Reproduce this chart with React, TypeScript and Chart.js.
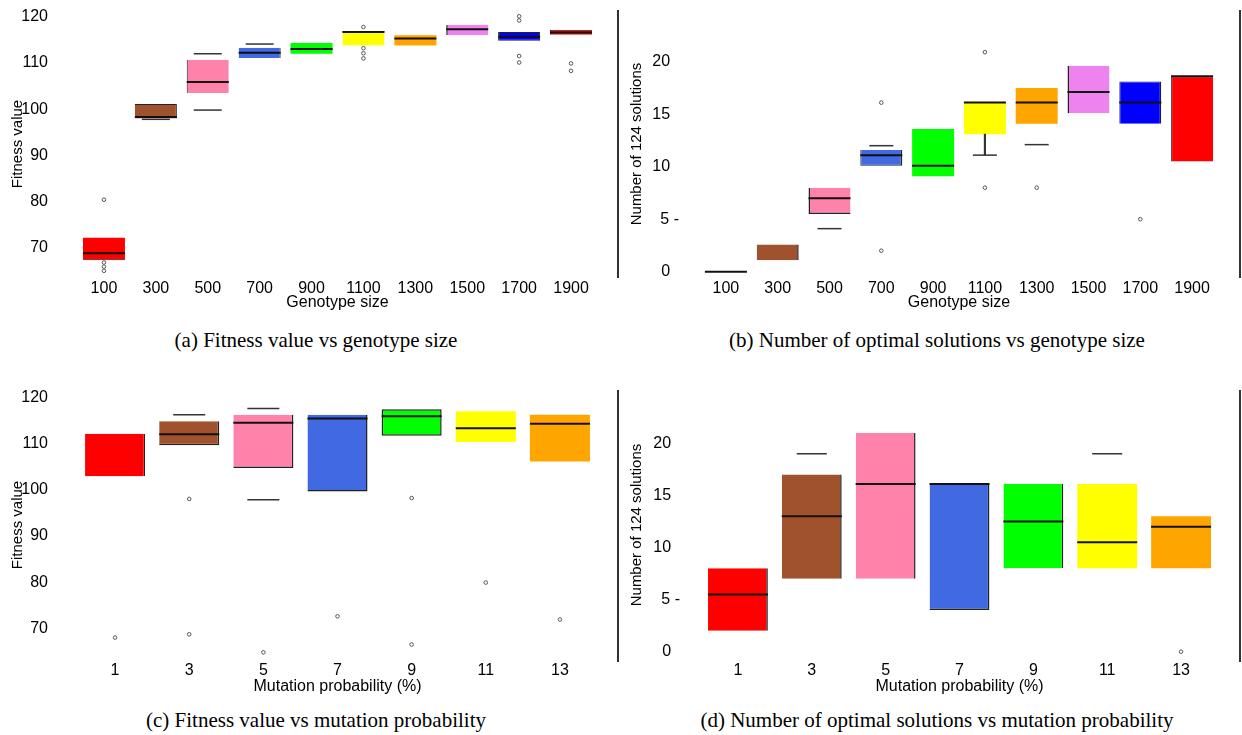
import React, { useEffect, useRef } from "react";
import { Chart, registerables } from "chart.js";

Chart.register(...registerables);

type Pt = { x: string; y: number };
type Edges = { top: number; right: number; bottom: number; left: number };

// ---------- categories ----------
const genotypeSizes = ["100", "300", "500", "700", "900", "1100", "1300", "1500", "1700", "1900"];
const mutationProbs = ["1", "3", "5", "7", "9", "11", "13"];

const genotypeColors = ["#FF0000", "#A0522D", "#FF82AB", "#4169E1", "#00FF00", "#FFFF00", "#FFA500", "#EE82EE", "#0000FF", "#FF0000"];
const mutationColors = ["#FF0000", "#A0522D", "#FF82AB", "#4169E1", "#00FF00", "#FFFF00", "#FFA500"];

// ---------- tick labels ----------
const fitnessTicks = [70, 80, 90, 100, 110, 120];
const fitnessTickLabels = ["70", "80", "90", "100", "110", "120"];
const countTicks = [0, 5, 10, 15, 20];
const countTickLabels = ["0  ", "5 -", "10  ", "15  ", "20  "];

// ---------- (a) fitness vs genotype size ----------
const fitGenoQ1 = [67.3, 98.0, 103.5, 111.1, 112.0, 113.8, 113.8, 116.0, 114.8, 116.1];
const fitGenoQ3 = [72.2, 101.1, 110.7, 113.3, 114.3, 116.9, 116.0, 118.3, 116.7, 117.2];
const fitGenoMedian: (number | null)[] = [68.8, 98.3, 105.9, 112.2, 113.0, 116.7, 115.3, 117.3, 115.7, 116.6];
const fitGenoCaps: Pt[] = [
  { x: "300", y: 97.8 }, { x: "500", y: 112.0 }, { x: "500", y: 99.8 }, { x: "700", y: 114.1 },
];
const fitGenoOutliers: Pt[] = [
  { x: "100", y: 80.4 }, { x: "100", y: 66.8 }, { x: "100", y: 65.9 }, { x: "100", y: 65.0 },
  { x: "1100", y: 117.8 }, { x: "1100", y: 113.2 }, { x: "1100", y: 112.1 }, { x: "1100", y: 111.0 },
  { x: "1700", y: 120.1 }, { x: "1700", y: 119.2 }, { x: "1700", y: 111.5 }, { x: "1700", y: 110.1 },
  { x: "1900", y: 109.9 }, { x: "1900", y: 108.3 },
];
const fitGenoWhiskers: ([number, number] | null)[] = [null, null, null, null, null, null, null, null, null, null];

// ---------- (b) optimal solutions vs genotype size ----------
const solGenoQ1 = [0, 1.1, 5.5, 10.1, 9.1, 13.1, 14.1, 15.1, 14.1, 10.5];
const solGenoQ3 = [0, 2.6, 8.0, 11.6, 13.6, 16.1, 17.5, 19.6, 18.1, 18.6];
const solGenoMedian: (number | null)[] = [0, null, 7.0, 11.1, 10.1, 16.1, 16.1, 17.1, 16.1, 18.6];
const solGenoCaps: Pt[] = [
  { x: "500", y: 4.1 }, { x: "700", y: 12.0 }, { x: "1100", y: 11.1 }, { x: "1300", y: 12.1 },
];
const solGenoOutliers: Pt[] = [
  { x: "700", y: 16.1 }, { x: "700", y: 2.0 },
  { x: "1100", y: 20.9 }, { x: "1100", y: 8.0 },
  { x: "1300", y: 8.0 }, { x: "1700", y: 5.0 },
];
const solGenoWhiskers: ([number, number] | null)[] = [null, null, null, null, null, [11.1, 13.1], null, null, null, null];

// ---------- (c) fitness vs mutation probability ----------
const fitMutQ1 = [102.9, 109.6, 104.7, 99.6, 111.7, 110.3, 106.1];
const fitMutQ3 = [112.1, 114.8, 116.2, 116.2, 117.4, 117.0, 116.2];
const fitMutMedian: (number | null)[] = [null, 112.0, 114.5, 115.4, 115.9, 113.3, 114.3];
const fitMutCaps: Pt[] = [
  { x: "3", y: 116.2 }, { x: "5", y: 117.6 }, { x: "5", y: 97.8 },
];
const fitMutOutliers: Pt[] = [
  { x: "1", y: 68.0 },
  { x: "3", y: 98.0 }, { x: "3", y: 68.7 },
  { x: "5", y: 64.8 },
  { x: "7", y: 72.6 },
  { x: "9", y: 98.2 }, { x: "9", y: 66.5 },
  { x: "11", y: 79.9 },
  { x: "13", y: 71.9 },
];
const fitMutWhiskers: ([number, number] | null)[] = [null, null, null, null, null, null, null];

// ---------- (d) optimal solutions vs mutation probability ----------
const solMutQ1 = [2.0, 7.0, 7.0, 4.0, 8.0, 8.0, 8.0];
const solMutQ3 = [8.0, 17.0, 21.0, 16.1, 16.1, 16.1, 13.0];
const solMutMedian: (number | null)[] = [5.5, 13.0, 16.1, 16.1, 12.5, 10.5, 12.0];
const solMutCaps: Pt[] = [{ x: "3", y: 19.0 }, { x: "11", y: 19.0 }];
const solMutOutliers: Pt[] = [{ x: "13", y: 0.0 }];
const solMutWhiskers: ([number, number] | null)[] = [null, null, null, null, null, null, null];

// ---------- box edge styling (dark edges seen on some boxes) ----------
const E = (top: number, right: number, bottom: number, left: number): Edges => ({ top, right, bottom, left });
const edgesA: Edges[] = [E(0,0,1,0), E(1,1,0,0), E(0,0,0,1), E(0,1,0,0), E(0,0,0,0), E(1,0,0,0), E(0,0,0,0), E(0,0,0,1.5), E(1,1,1,1), E(1,0,0,1)];
const edgesB: Edges[] = [E(0,0,0,0), E(0,1.5,0,0), E(0,0,1.5,1.5), E(0,1.5,1,1), E(0,0,0,0), E(0,0,0,0), E(0,0,0,0), E(0,0,0,1.5), E(1,1.5,0,1), E(1,0,0,1)];
const edgesC: Edges[] = [E(0,1.5,0,0), E(0,1.5,1.5,0), E(0,1.5,1.5,0), E(0,1.5,1.5,0), E(1.5,1.5,1.5,1.5), E(0,0,0,0), E(0,0,0,0)];
const edgesD: Edges[] = [E(0,1.5,0,0), E(0,1.5,0,0), E(0,1.5,0,0), E(0,1.5,1.5,0), E(0,1.5,0,0), E(0,0,0,0), E(0,0,0,0)];

const SANS = "'Liberation Sans', Arial, sans-serif";
const SERIF = "'Liberation Serif', 'Times New Roman', serif";

interface PanelProps {
  left: number;
  top: number;
  width: number;
  height: number;
  labels: string[];
  colors: string[];
  edges: Edges[];
  q1: number[];
  q3: number[];
  median: (number | null)[];
  caps: Pt[];
  outliers: Pt[];
  whiskers: ([number, number] | null)[];
  yMin: number;
  yMax: number;
  yTicks: number[];
  yTickLabels: string[];
  yTitle: string;
  xTitle: string;
  yAxisWidth: number;
  xAxisHeight: number;
  yTickPadding: number;
  yTitlePad: number;
  halfBox: number;
  capHalf: number;
}

function BoxPanel(p: PanelProps) {
  const ref = useRef<HTMLCanvasElement | null>(null);
  useEffect(() => {
    if (!ref.current) return;
    const chart = new Chart(ref.current, {
      type: "bar",
      data: {
        labels: p.labels,
        datasets: [
          {
            type: "line",
            data: p.median as any,
            showLine: false,
            pointStyle: "line",
            pointRadius: p.halfBox,
            pointHoverRadius: p.halfBox,
            pointBorderColor: "#111",
            pointBorderWidth: 2,
            borderColor: "#111",
            clip: false,
            order: 0,
          } as any,
          {
            type: "line",
            data: p.caps as any,
            showLine: false,
            pointStyle: "line",
            pointRadius: p.capHalf,
            pointBorderColor: "#333",
            pointBorderWidth: 1.5,
            borderColor: "#333",
            clip: false,
            order: 1,
          } as any,
          {
            type: "line",
            data: p.outliers as any,
            showLine: false,
            pointStyle: "circle",
            pointRadius: 1.8,
            pointBackgroundColor: "rgba(0,0,0,0)",
            pointBorderColor: "#555",
            pointBorderWidth: 1,
            clip: false,
            order: 1,
          } as any,
          {
            type: "bar",
            data: p.whiskers as any,
            backgroundColor: "#333",
            barThickness: 1.5,
            grouped: false,
            order: 5,
          } as any,
          {
            type: "bar",
            data: p.q1.map((v, i) => [v, p.q3[i]]) as any,
            backgroundColor: p.colors,
            borderColor: "#222",
            borderWidth: p.edges,
            borderSkipped: false,
            barPercentage: 0.81,
            categoryPercentage: 1,
            grouped: false,
            order: 10,
          } as any,
        ],
      },
      options: {
        animation: false,
        responsive: false,
        maintainAspectRatio: false,
        devicePixelRatio: 1,
        layout: { autoPadding: false, padding: { top: 10, left: 0, right: 0, bottom: 0 } },
        plugins: { legend: { display: false }, tooltip: { enabled: false } },
        scales: {
          x: {
            type: "category",
            offset: true,
            afterFit: (s: any) => {
              s.height = p.xAxisHeight;
            },
            grid: { display: false, drawTicks: false },
            border: { display: false },
            ticks: {
              padding: 1,
              color: "#000",
              font: { family: SANS, size: 16 },
              maxRotation: 0,
              autoSkip: false,
            },
            title: {
              display: true,
              text: p.xTitle,
              color: "#000",
              font: { family: SANS, size: 16 },
              padding: { top: 0, bottom: 4 },
            },
          },
          y: {
            type: "linear",
            min: p.yMin,
            max: p.yMax,
            afterBuildTicks: (s: any) => {
              s.ticks = p.yTicks.map((v) => ({ value: v }));
            },
            afterFit: (s: any) => {
              s.width = p.yAxisWidth;
              s.paddingTop = 0;
              s.paddingBottom = 0;
            },
            grid: { display: false, drawTicks: false },
            border: { display: false },
            ticks: {
              padding: p.yTickPadding,
              color: "#000",
              font: { family: SANS, size: 16 },
              callback: (v: any) => {
                const i = p.yTicks.indexOf(Number(v));
                return i >= 0 ? p.yTickLabels[i] : "";
              },
            },
            title: {
              display: true,
              text: p.yTitle,
              color: "#000",
              font: { family: SANS, size: 15 },
              padding: { top: p.yTitlePad, bottom: 0 },
            },
          },
        },
      } as any,
    });
    return () => chart.destroy();
  }, []);
  return (
    <canvas
      ref={ref}
      width={p.width}
      height={p.height}
      style={{ position: "absolute", left: p.left, top: p.top, width: p.width, height: p.height }}
    />
  );
}

function Caption({ text, cx, cy }: { text: string; cx: number; cy: number }) {
  return (
    <div
      style={{
        position: "absolute",
        left: cx - 320,
        width: 640,
        top: cy - 12,
        height: 24,
        lineHeight: "24px",
        textAlign: "center",
        fontFamily: SERIF,
        fontSize: 21,
        color: "#000",
        whiteSpace: "nowrap",
      }}
    >
      {text}
    </div>
  );
}

function Separator({ x, y1, y2 }: { x: number; y1: number; y2: number }) {
  return (
    <div style={{ position: "absolute", left: x, top: y1, width: 1.5, height: y2 - y1, background: "#333" }} />
  );
}

export default function App() {
  return (
    <div
      style={{
        position: "fixed",
        left: 0,
        top: 0,
        width: 1242,
        height: 735,
        background: "#fff",
        overflow: "hidden",
      }}
    >
      <BoxPanel
        left={0} top={0} width={597} height={316}
        labels={genotypeSizes} colors={genotypeColors} edges={edgesA}
        q1={fitGenoQ1} q3={fitGenoQ3} median={fitGenoMedian}
        caps={fitGenoCaps} outliers={fitGenoOutliers} whiskers={fitGenoWhiskers}
        yMin={63.44} yMax={121.47} yTicks={fitnessTicks} yTickLabels={fitnessTickLabels}
        yTitle="Fitness value" xTitle="Genotype size"
        yAxisWidth={78} xAxisHeight={38} yTickPadding={30} yTitlePad={9}
        halfBox={21} capHalf={14}
      />
      <BoxPanel
        left={620} top={0} width={598} height={316}
        labels={genotypeSizes} colors={genotypeColors} edges={edgesB}
        q1={solGenoQ1} q3={solGenoQ3} median={solGenoMedian}
        caps={solGenoCaps} outliers={solGenoOutliers} whiskers={solGenoWhiskers}
        yMin={-0.6} yMax={24.92} yTicks={countTicks} yTickLabels={countTickLabels}
        yTitle="Number of 124 solutions" xTitle="Genotype size"
        yAxisWidth={80} xAxisHeight={38} yTickPadding={21} yTitlePad={8}
        halfBox={21} capHalf={12}
      />
      <BoxPanel
        left={0} top={380} width={597} height={320}
        labels={mutationProbs} colors={mutationColors} edges={edgesC}
        q1={fitMutQ1} q3={fitMutQ3} median={fitMutMedian}
        caps={fitMutCaps} outliers={fitMutOutliers} whiskers={fitMutWhiskers}
        yMin={63.14} yMax={121.58} yTicks={fitnessTicks} yTickLabels={fitnessTickLabels}
        yTitle="Fitness value" xTitle="Mutation probability (%)"
        yAxisWidth={78} xAxisHeight={40} yTickPadding={30} yTitlePad={9}
        halfBox={30} capHalf={16}
      />
      <BoxPanel
        left={620} top={380} width={598} height={320}
        labels={mutationProbs} colors={mutationColors} edges={edgesD}
        q1={solMutQ1} q3={solMutQ3} median={solMutMedian}
        caps={solMutCaps} outliers={solMutOutliers} whiskers={solMutWhiskers}
        yMin={-0.8} yMax={25.12} yTicks={countTicks} yTickLabels={countTickLabels}
        yTitle="Number of 124 solutions" xTitle="Mutation probability (%)"
        yAxisWidth={81} xAxisHeight={40} yTickPadding={21} yTitlePad={8}
        halfBox={30} capHalf={15}
      />
      <Separator x={617} y1={10} y2={278} />
      <Separator x={1239} y1={10} y2={278} />
      <Separator x={617} y1={390} y2={662} />
      <Separator x={1239} y1={390} y2={662} />
      <Caption text="(a) Fitness value vs genotype size" cx={316} cy={340} />
      <Caption text="(b) Number of optimal solutions vs genotype size" cx={937} cy={340} />
      <Caption text="(c) Fitness value vs mutation probability" cx={316} cy={720} />
      <Caption text="(d) Number of optimal solutions vs mutation probability" cx={937} cy={720} />
    </div>
  );
}
